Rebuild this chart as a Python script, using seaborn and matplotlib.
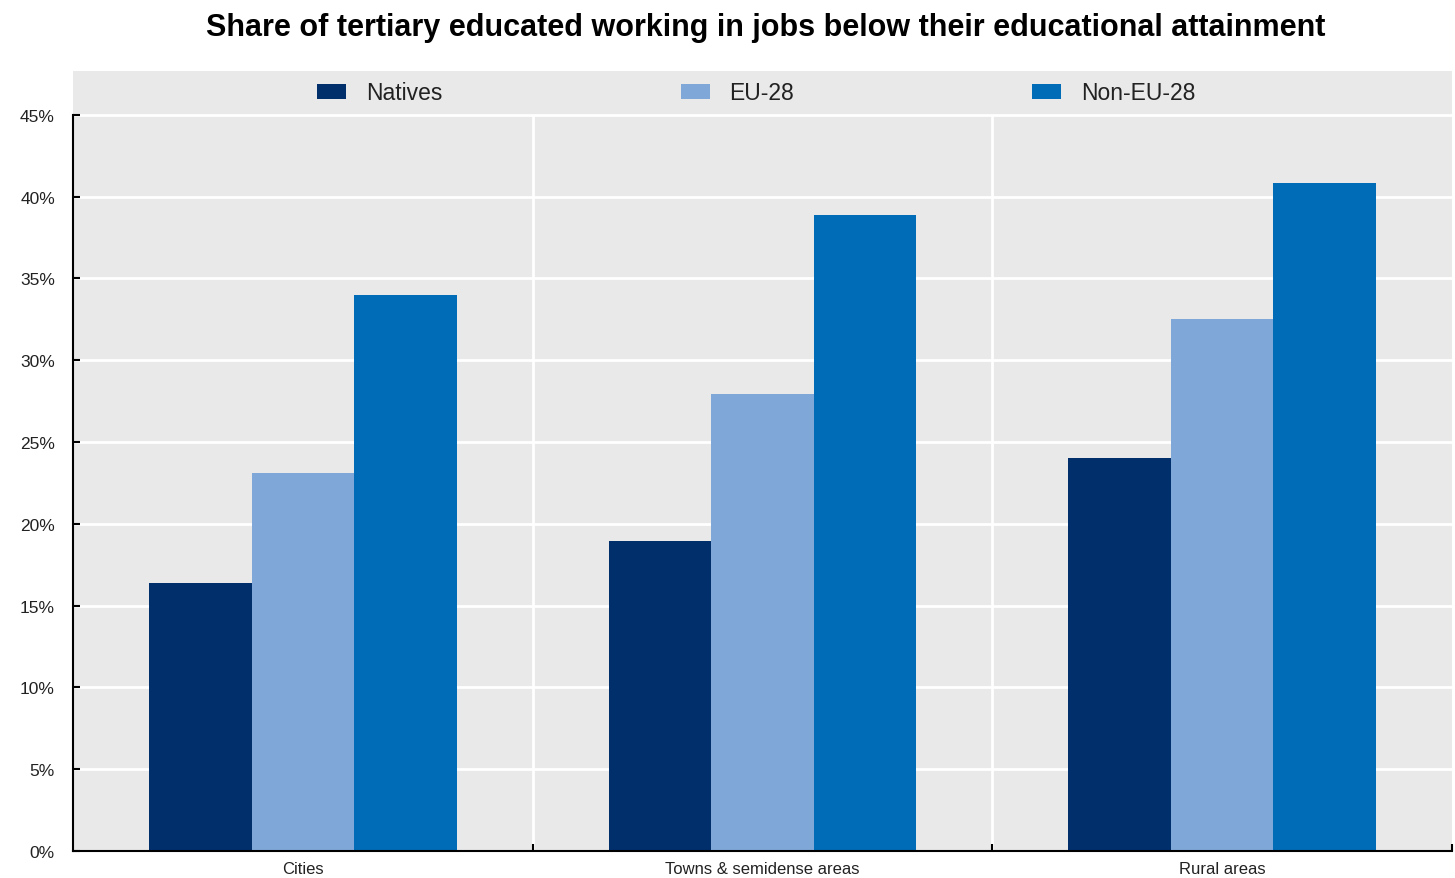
import matplotlib
matplotlib.use("Agg")
import matplotlib.pyplot as plt
from matplotlib import font_manager
from matplotlib.ticker import FixedLocator, FuncFormatter
import seaborn as sns
import pandas as pd

# Data: share (%) of tertiary educated working in jobs below their attainment
areas = ["Cities", "Towns & semidense areas", "Rural areas"]
groups = ["Natives", "EU-28", "Non-EU-28"]
natives = [16.4, 18.95, 24.0]
eu28 = [23.1, 27.9, 32.5]
non_eu28 = [34.0, 38.9, 40.8]

colors = ["#002F6C", "#7FA8D9", "#006BB6"]

df = pd.DataFrame({
    "area": areas * 3,
    "group": [groups[0]] * 3 + [groups[1]] * 3 + [groups[2]] * 3,
    "value": natives + eu28 + non_eu28,
})

sns.set_style("white")
available = {f.name for f in font_manager.fontManager.ttflist}
narrow = "Liberation Sans Narrow" if "Liberation Sans Narrow" in available else "Liberation Sans"
plt.rcParams["font.family"] = [narrow, "DejaVu Sans"]

fig = plt.figure(figsize=(14.55, 8.79), dpi=100, facecolor="white")
ax = fig.add_axes([73 / 1455, 1 - 852 / 879, (1452 - 73) / 1455, (852 - 72) / 879])
ax.set_facecolor("#E9E9E9")

ymax_plot = 45 * (852 - 72) / (852 - 115.7)
ax.set_ylim(0, ymax_plot)
ax.set_xlim(-0.5, 2.5)

# white grid: horizontal at each 5%, vertical separators between areas
for yv in range(5, 50, 5):
    ax.axhline(yv, color="white", lw=2, zorder=0.5)
ax.vlines([0.5, 1.5], 0, 45, color="white", lw=2, zorder=0.5)

sns.barplot(data=df, x="area", y="value", hue="group", hue_order=groups,
            palette=colors, width=0.67, saturation=1, gap=0,
            edgecolor="none", linewidth=0, ax=ax, zorder=2)

for s in ["top", "right"]:
    ax.spines[s].set_visible(False)
ax.spines["left"].set_bounds(0, 45)
for s in ["left", "bottom"]:
    ax.spines[s].set_color("black")
    ax.spines[s].set_linewidth(1.5)

ax.yaxis.set_major_locator(FixedLocator(range(0, 50, 5)))
ax.yaxis.set_major_formatter(FuncFormatter(lambda v, p: f"{v:.0f}%"))
ax.tick_params(axis="y", direction="in", length=5, width=1.5, color="black",
               labelsize=12.5, labelcolor="#222222", pad=13, left=True)

ax.set_xticks([0.5, 1.5, 2.5])
ax.set_xticklabels([])
ax.set_xticks([0, 1, 2], minor=True)
ax.set_xticklabels(areas, minor=True)
ax.tick_params(axis="x", which="major", direction="in", length=5, width=1.5,
               color="black", bottom=True)
ax.tick_params(axis="x", which="minor", length=0, labelsize=12,
               labelcolor="#222222", pad=7)
ax.set_xlabel("")
ax.set_ylabel("")

ax.legend(loc="center", bbox_to_anchor=(0.4955, 1 - 22 / 780), ncol=3,
          frameon=False, fontsize=16.5, handlelength=1.27, handleheight=0.6,
          handletextpad=0.85, columnspacing=10.4, borderaxespad=0)
for t in ax.get_legend().get_texts():
    t.set_color("#222222")

fig.text(0.526, 1 - 28 / 879, "Share of tertiary educated working in jobs below their educational attainment",
         ha="center", va="center", fontsize=22, fontweight="bold", color="black")

fig.savefig("out.png", dpi=100, facecolor="white")
